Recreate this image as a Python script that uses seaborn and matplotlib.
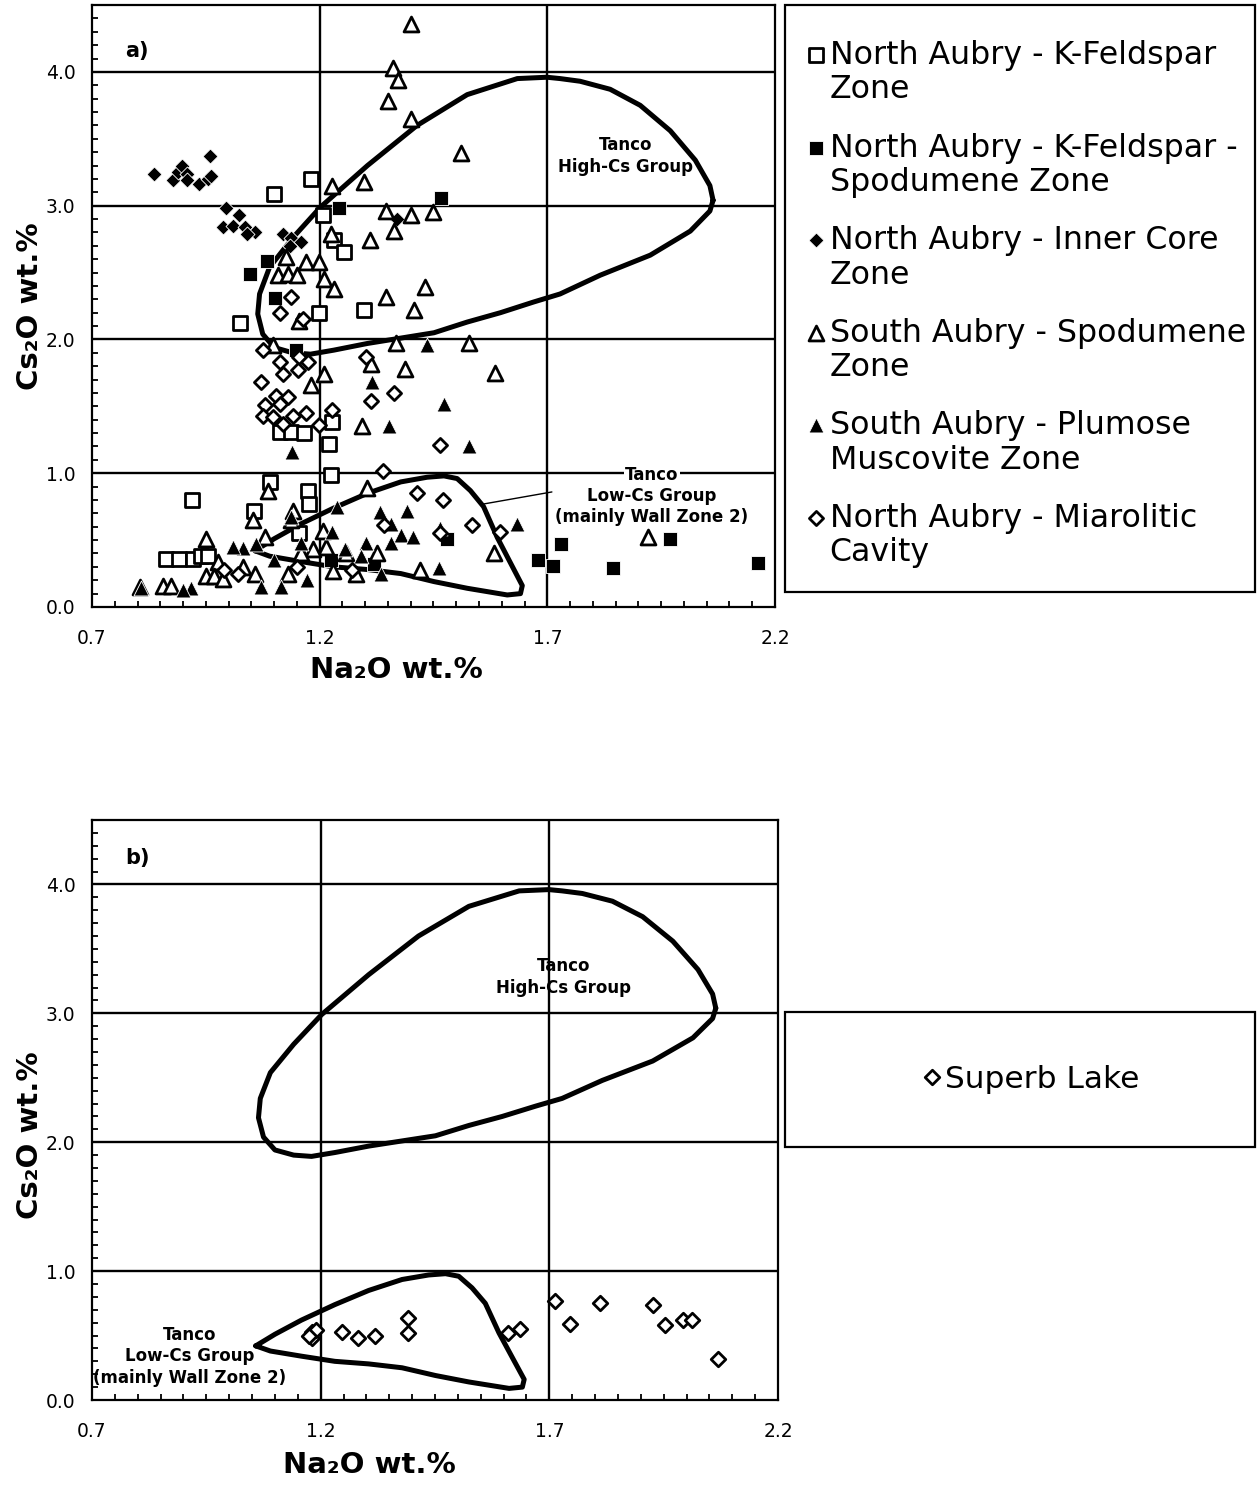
import numpy as np
import pandas as pd
import matplotlib
matplotlib.use("Agg")
import matplotlib.pyplot as plt
import seaborn as sns
from matplotlib.patches import Rectangle
from matplotlib.ticker import MultipleLocator, FormatStrFormatter

# ---------------- data ----------------
x_ticks = [0.7, 1.2, 1.7, 2.2]
y_ticks = [0.0, 1.0, 2.0, 3.0, 4.0]
x_grid = [1.2, 1.7]
y_grid = [1.0, 2.0, 3.0, 4.0]

kfs_x = [1.099, 1.181, 1.207, 1.231, 1.253, 1.024, 1.198, 1.297, 1.112, 1.137, 1.166, 1.228,
         1.221, 1.225, 1.090, 1.174, 1.176, 0.919, 1.055, 0.862, 0.892, 0.921, 0.940, 0.954, 1.155]
kfs_y = [3.09, 3.20, 2.93, 2.74, 2.65, 2.12, 2.20, 2.22, 1.31, 1.31, 1.30, 1.38,
         1.22, 0.985, 0.935, 0.87, 0.77, 0.80, 0.72, 0.36, 0.36, 0.36, 0.38, 0.38, 0.55]

kfsp_x = [1.242, 1.467, 1.084, 1.046, 1.103, 1.147, 1.480, 1.680, 1.712, 1.729, 1.845, 1.970, 2.162, 1.320, 1.225]
kfsp_y = [2.98, 3.06, 2.59, 2.49, 2.31, 1.92, 0.51, 0.35, 0.31, 0.47, 0.29, 0.505, 0.33, 0.32, 0.35]

core_x = [0.836, 0.878, 0.889, 0.898, 0.909, 0.909, 0.936, 0.954, 0.959, 0.961, 0.995, 1.022,
          0.987, 1.009, 1.035, 1.057, 1.040, 1.119, 1.137, 1.159, 1.134, 1.370]
core_y = [3.24, 3.19, 3.25, 3.30, 3.24, 3.19, 3.16, 3.20, 3.37, 3.22, 2.98, 2.93,
          2.84, 2.85, 2.84, 2.80, 2.79, 2.79, 2.76, 2.73, 2.70, 2.90]

spod_x = [1.401, 1.362, 1.372, 1.350, 1.401, 1.511, 1.297, 1.226, 1.345, 1.400, 1.448, 1.363,
          1.310, 1.224, 1.169, 1.198, 1.210, 1.231, 1.345, 1.432, 1.407, 1.367, 1.527, 1.586,
          1.387, 1.312, 1.210, 1.180, 1.126, 1.108, 1.130, 1.150, 1.155, 1.097,
          1.294, 1.305, 1.421, 1.582, 1.327, 1.279, 1.257, 1.922, 1.086, 1.053, 0.951, 0.976,
          0.951, 0.969, 0.987, 1.141, 1.137, 1.031, 1.057, 1.079, 1.207, 1.214, 1.185, 0.856,
          0.805, 0.873, 1.160, 1.130, 1.230]
spod_y = [4.36, 4.03, 3.94, 3.78, 3.65, 3.39, 3.18, 3.15, 2.96, 2.93, 2.95, 2.81,
          2.74, 2.79, 2.58, 2.58, 2.45, 2.38, 2.32, 2.39, 2.22, 1.97, 1.97, 1.75,
          1.78, 1.82, 1.74, 1.66, 2.62, 2.48, 2.49, 2.48, 2.14, 1.96,
          1.35, 0.89, 0.28, 0.40, 0.40, 0.25, 0.40, 0.525, 0.87, 0.65, 0.51, 0.34,
          0.23, 0.23, 0.21, 0.72, 0.65, 0.30, 0.25, 0.52, 0.57, 0.45, 0.43, 0.16,
          0.15, 0.16, 0.40, 0.25, 0.27]

plum_x = [1.435, 1.316, 1.473, 1.352, 1.527, 1.332, 1.391, 1.356, 1.378, 1.405, 1.356, 1.301,
          1.462, 1.633, 1.465, 1.228, 1.239, 1.173, 1.334, 1.139, 1.071, 1.115, 0.918, 0.900,
          0.808, 1.031, 1.137, 1.160, 1.009, 1.255, 1.290, 1.100, 1.060]
plum_y = [1.96, 1.68, 1.52, 1.35, 1.20, 0.71, 0.72, 0.62, 0.54, 0.52, 0.475, 0.475,
          0.29, 0.62, 0.59, 0.56, 0.75, 0.20, 0.25, 1.16, 0.15, 0.15, 0.14, 0.13,
          0.14, 0.44, 0.67, 0.48, 0.45, 0.43, 0.38, 0.35, 0.47]

miar_x = [1.137, 1.112, 1.164, 1.075, 1.112, 1.155, 1.174, 1.119, 1.152, 1.071, 1.104, 1.130,
          1.081, 1.112, 1.075, 1.097, 1.141, 1.170, 1.301, 1.364, 1.312, 1.228, 1.119, 1.199,
          1.465, 1.338, 1.414, 1.471, 1.341, 1.535, 1.465, 1.597, 1.020, 0.990, 1.150, 1.270]
miar_y = [2.32, 2.20, 2.15, 1.92, 1.83, 1.87, 1.83, 1.74, 1.77, 1.68, 1.58, 1.57,
          1.51, 1.52, 1.43, 1.42, 1.43, 1.45, 1.87, 1.60, 1.54, 1.47, 1.37, 1.36,
          1.21, 1.02, 0.85, 0.80, 0.61, 0.61, 0.55, 0.56, 0.25, 0.28, 0.30, 0.28]

superb_x = [1.181, 1.181, 1.190, 1.175, 1.247, 1.282, 1.319, 1.390, 1.390, 1.609, 1.636, 1.712,
            1.746, 1.811, 1.927, 1.952, 1.993, 2.013, 2.068]
superb_y = [0.53, 0.48, 0.54, 0.50, 0.53, 0.48, 0.50, 0.64, 0.52, 0.52, 0.55, 0.77,
            0.59, 0.75, 0.74, 0.58, 0.62, 0.62, 0.32]

high_x = [2.064, 2.057, 2.025, 1.970, 1.904, 1.838, 1.772, 1.728, 1.699, 1.634, 1.524, 1.414,
          1.305, 1.202, 1.141, 1.090, 1.068, 1.064, 1.075, 1.100, 1.141, 1.180, 1.231, 1.305,
          1.378, 1.451, 1.524, 1.597, 1.670, 1.728, 1.816, 1.926, 2.014, 2.057, 2.064]
high_y = [3.04, 3.15, 3.34, 3.56, 3.75, 3.87, 3.93, 3.95, 3.96, 3.95, 3.83, 3.60,
          3.30, 2.99, 2.76, 2.54, 2.34, 2.19, 2.04, 1.94, 1.90, 1.89, 1.92, 1.97,
          2.01, 2.05, 2.13, 2.20, 2.28, 2.34, 2.48, 2.63, 2.81, 2.96, 3.04]

low_x = [1.058, 1.100, 1.158, 1.231, 1.305, 1.378, 1.436, 1.473, 1.502, 1.531, 1.560, 1.590,
         1.619, 1.645, 1.641, 1.612, 1.524, 1.451, 1.378, 1.305, 1.231, 1.158, 1.090, 1.058]
low_y = [0.42, 0.51, 0.62, 0.74, 0.85, 0.935, 0.97, 0.98, 0.96, 0.87, 0.75, 0.52,
         0.33, 0.16, 0.10, 0.09, 0.14, 0.19, 0.25, 0.28, 0.30, 0.34, 0.38, 0.42]

leader_x = [1.56, 1.71]
leader_y = [0.77, 0.86]

labels_a = ["North Aubry - K-Feldspar\nZone",
            "North Aubry - K-Feldspar -\nSpodumene Zone",
            "North Aubry - Inner Core\nZone",
            "South Aubry - Spodumene\nZone",
            "South Aubry - Plumose\nMuscovite Zone",
            "North Aubry - Miarolitic\nCavity"]
label_b = "Superb Lake"

# ---------------- figure ----------------
sns.set_theme(style="white", rc={"text.color": "black", "axes.labelcolor": "black",
                                 "xtick.color": "black", "ytick.color": "black",
                                 "axes.edgecolor": "black"})
plt.rcParams['font.family'] = ['DejaVu Sans']

W, H = 1257, 1487
fig = plt.figure(figsize=(W / 100, H / 100), dpi=100)


def px_axes(l, t, r, b):
    return fig.add_axes([l / W, 1 - b / H, (r - l) / W, (b - t) / H])


ax_a = px_axes(92, 5, 775, 607)
ax_b = px_axes(92, 820, 778, 1400)


def style(ax):
    ax.set_xlim(0.7, 2.2)
    ax.set_ylim(0, 4.5)
    ax.set_xticks(x_ticks)
    ax.set_yticks(y_ticks)
    ax.xaxis.set_minor_locator(MultipleLocator(0.05))
    ax.yaxis.set_minor_locator(MultipleLocator(0.1))
    ax.xaxis.set_major_formatter(FormatStrFormatter('%.1f'))
    ax.yaxis.set_major_formatter(FormatStrFormatter('%.1f'))
    ax.tick_params(which='both', direction='in', bottom=True, left=True, top=False,
                   right=False, color='black', width=1.3)
    ax.tick_params(which='major', length=7, labelsize=13.5)
    ax.tick_params(which='minor', length=4)
    ax.tick_params(axis='x', which='major', pad=16)
    ax.tick_params(axis='y', which='major', pad=12)
    for s in ax.spines.values():
        s.set_color('black')
        s.set_linewidth(1.6)
    for v in x_grid:
        ax.axvline(v, color='black', lw=1.7, zorder=1)
    for v in y_grid:
        ax.axhline(v, color='black', lw=1.7, zorder=1)


style(ax_a)
style(ax_b)

open_kw = dict(color='white', edgecolor='black', linewidth=2.0, zorder=3, legend=False)
fill_kw = dict(color='black', edgecolor='white', linewidth=0.6, zorder=3, legend=False)

series = [
    (kfs_x, kfs_y, 's', 100, open_kw, labels_a[0]),
    (kfsp_x, kfsp_y, 's', 115, fill_kw, labels_a[1]),
    (core_x, core_y, 'D', 58, fill_kw, labels_a[2]),
    (spod_x, spod_y, '^', 115, open_kw, labels_a[3]),
    (plum_x, plum_y, '^', 115, fill_kw, labels_a[4]),
    (miar_x, miar_y, 'D', 52, open_kw, labels_a[5]),
]

for xs, ys, mk, sz, kw, lab in series:
    df = pd.DataFrame({"Na2O": xs, "Cs2O": ys})
    sns.scatterplot(data=df, x="Na2O", y="Cs2O", marker=mk, s=sz, ax=ax_a, label=lab, **kw)

df_b = pd.DataFrame({"Na2O": superb_x, "Cs2O": superb_y})
sns.scatterplot(data=df_b, x="Na2O", y="Cs2O", marker='D', s=55, ax=ax_b, label=label_b, **open_kw)

for ax in (ax_a, ax_b):
    ax.plot(high_x, high_y, color='black', lw=3.6, solid_joinstyle='round', zorder=2.5)
    ax.plot(low_x, low_y, color='black', lw=3.6, solid_joinstyle='round', zorder=2.5)
    if ax.get_legend() is not None:
        ax.get_legend().remove()

ax_a.plot(leader_x, leader_y, color='black', lw=1.0, zorder=2.5)

ann_kw = dict(ha='center', va='center', fontsize=12, fontweight='bold', linespacing=1.25, zorder=4)
ax_a.text(1.871, 3.37, "Tanco\nHigh-Cs Group", **ann_kw)
ax_a.text(1.93, 0.985, "Tanco", bbox=dict(facecolor='white', edgecolor='none', pad=1.0), **ann_kw)
ax_a.text(1.93, 0.75, "Low-Cs Group\n(mainly Wall Zone 2)", **ann_kw)
ax_b.text(1.731, 3.28, "Tanco\nHigh-Cs Group", **ann_kw)
ax_b.text(0.913, 0.34, "Tanco\nLow-Cs Group\n(mainly Wall Zone 2)", **ann_kw)

ax_a.text(0.048, 0.924, "a)", transform=ax_a.transAxes, fontsize=15, fontweight='bold', va='center')
ax_b.text(0.048, 0.934, "b)", transform=ax_b.transAxes, fontsize=15, fontweight='bold', va='center')

lab_kw = dict(fontsize=21, fontweight='bold')
ax_a.set_xlabel("Na\u2082O wt.%", **lab_kw)
ax_a.set_ylabel("Cs\u2082O wt.%", **lab_kw)
ax_b.set_xlabel("Na\u2082O wt.%", **lab_kw)
ax_b.set_ylabel("Cs\u2082O wt.%", **lab_kw)
ax_a.xaxis.set_label_coords(0.445, -0.082)
ax_b.xaxis.set_label_coords(0.405, -0.088)
ax_a.yaxis.set_label_coords(-0.07, 0.50)
ax_b.yaxis.set_label_coords(-0.07, 0.457)

# legends
h_a, l_a = ax_a.get_legend_handles_labels()
leg_a = fig.legend(h_a, l_a, loc='upper left', bbox_to_anchor=(809 / W, 1 - 40 / H),
                   frameon=False, fontsize=22.8, borderaxespad=0, borderpad=0,
                   handlelength=0.45, handletextpad=0.2, labelspacing=0.86,
                   scatterpoints=1, scatteryoffsets=[0.32])
for t in leg_a.get_texts():
    t.set_linespacing(1.14)
for col in leg_a._legend_handle_box.get_children():
    for row in col.get_children():
        row.align = 'top'

h_b, l_b = ax_b.get_legend_handles_labels()
leg_b = fig.legend(h_b, l_b, loc='center', bbox_to_anchor=(1032 / W, 1 - 1079 / H),
                   frameon=False, fontsize=22.5, borderaxespad=0, borderpad=0,
                   handlelength=0.45, handletextpad=0.2, scatterpoints=1, scatteryoffsets=[0.5])

fig.add_artist(Rectangle((785 / W, 1 - 592 / H), (1255 - 785) / W, (592 - 5) / H,
                         transform=fig.transFigure, fill=False, ec='black', lw=1.6))
fig.add_artist(Rectangle((785 / W, 1 - 1147 / H), (1255 - 785) / W, (1147 - 1012) / H,
                         transform=fig.transFigure, fill=False, ec='black', lw=1.6))

fig.savefig("out.png", dpi=100, facecolor='white')
